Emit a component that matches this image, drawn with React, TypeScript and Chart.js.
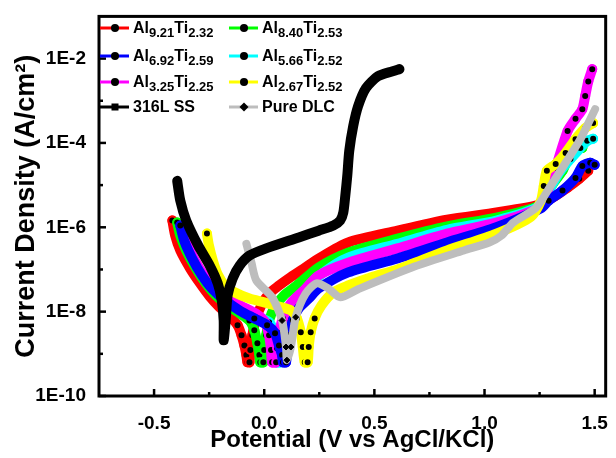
import React, { useEffect, useRef } from "react";
import { Chart, registerables } from "chart.js";

Chart.register(...registerables);

const FONT = '"Liberation Sans", Arial, Helvetica, sans-serif';

// ---------- series meta ----------
const seriesNames = [
  "Al9.21Ti2.32",
  "Al8.40Ti2.53",
  "Al6.92Ti2.59",
  "Al5.66Ti2.52",
  "Al3.25Ti2.25",
  "Al2.67Ti2.52",
  "316L SS",
  "Pure DLC",
];
const seriesColors = ["#ff0000", "#00ff00", "#0000ff", "#00ffff", "#ff00ff", "#ffff00", "#000000", "#bdbdbd"];
const seriesMarkers = ["circle", "circle", "circle", "circle", "circle", "circle", "rect", "rectRot"];
// drawing order (lower = on top)
const seriesOrder = [7, 6, 3, 5, 4, 2, 0, 1];

// ---------- data: potential (V) and current density (A/cm2) ----------
const potA = [-0.417, -0.404, -0.381, -0.336, -0.291, -0.247, -0.202, -0.157, -0.121, -0.103, -0.09, -0.081, -0.076, -0.067, -0.063, -0.054, -0.04, -0.013, 0.022, 0.067, 0.112, 0.179, 0.247, 0.381, 0.605, 0.83, 1.054, 1.247, 1.323, 1.377, 1.43, 1.471];
const curA = [1.45e-6, 6.31e-7, 2.82e-7, 1.05e-7, 4.68e-8, 2.29e-8, 1.26e-8, 7.76e-9, 4.79e-9, 2.75e-9, 1.58e-9, 9.33e-10, 6.31e-10, 6.31e-10, 1.23e-9, 2.75e-9, 6.17e-9, 1.41e-8, 2.69e-8, 4.17e-8, 6.17e-8, 1.05e-7, 1.82e-7, 4.37e-7, 8.32e-7, 1.51e-6, 2.24e-6, 3.39e-6, 5.62e-6, 8.71e-6, 1.41e-5, 2.19e-5];

const potB = [-0.395, -0.381, -0.354, -0.309, -0.265, -0.22, -0.166, -0.112, -0.067, -0.045, -0.031, -0.022, -0.018, -0.004, 0.0, 0.009, 0.022, 0.049, 0.09, 0.148, 0.247, 0.381, 0.605, 0.83, 1.054, 1.247, 1.278, 1.31, 1.354, 1.399, 1.444];
const curB = [1.29e-6, 6.31e-7, 2.82e-7, 1.05e-7, 4.68e-8, 2.45e-8, 1.41e-8, 9.12e-9, 6.17e-9, 3.63e-9, 1.78e-9, 9.33e-10, 6.31e-10, 6.31e-10, 1.23e-9, 2.75e-9, 6.17e-9, 1.32e-8, 2.45e-8, 4.17e-8, 1.12e-7, 2.51e-7, 5.37e-7, 1.05e-6, 1.7e-6, 3.24e-6, 6.31e-6, 1.07e-5, 2.19e-5, 6.46e-5, 7.59e-5];

const potC = [-0.381, -0.363, -0.327, -0.283, -0.238, -0.179, -0.112, -0.045, 0.013, 0.049, 0.067, 0.081, 0.085, 0.099, 0.103, 0.112, 0.13, 0.157, 0.202, 0.247, 0.381, 0.605, 0.83, 1.054, 1.256, 1.291, 1.354, 1.413, 1.444, 1.48, 1.5];
const curC = [1.1e-6, 4.79e-7, 1.82e-7, 7.24e-8, 3.55e-8, 1.86e-8, 1.07e-8, 6.92e-9, 4.79e-9, 3.09e-9, 1.58e-9, 9.33e-10, 6.31e-10, 6.31e-10, 1.23e-9, 2.75e-9, 6.17e-9, 1.2e-8, 2.04e-8, 3.55e-8, 8.51e-8, 1.82e-7, 4.37e-7, 1.0e-6, 2.82e-6, 4.27e-6, 7.41e-6, 1.48e-5, 2.82e-5, 3.39e-5, 3.02e-5];

const potD = [-0.377, -0.359, -0.323, -0.278, -0.233, -0.175, -0.108, -0.04, 0.022, 0.045, 0.054, 0.058, 0.072, 0.076, 0.085, 0.103, 0.139, 0.193, 0.269, 0.381, 0.605, 0.83, 1.054, 1.247, 1.291, 1.345, 1.39, 1.435, 1.466, 1.493];
const curD = [1.05e-6, 4.79e-7, 1.82e-7, 7.59e-8, 3.72e-8, 2.04e-8, 1.26e-8, 8.13e-9, 5.62e-9, 3.09e-9, 1.35e-9, 6.31e-10, 6.31e-10, 1.35e-9, 3.09e-9, 6.92e-9, 1.58e-8, 3.55e-8, 8.51e-8, 1.91e-7, 4.07e-7, 8.71e-7, 1.45e-6, 3.09e-6, 7.41e-6, 2.19e-5, 4.17e-5, 7.59e-5, 1.12e-4, 1.26e-4];

const potE = [-0.372, -0.35, -0.314, -0.269, -0.224, -0.166, -0.099, -0.031, 0.004, 0.022, 0.031, 0.036, 0.054, 0.058, 0.067, 0.085, 0.121, 0.179, 0.247, 0.381, 0.605, 0.83, 1.054, 1.247, 1.278, 1.323, 1.377, 1.413, 1.444, 1.457, 1.471, 1.489];
const curE = [9.77e-7, 4.37e-7, 1.62e-7, 6.76e-8, 3.55e-8, 2.04e-8, 1.32e-8, 8.51e-9, 5.62e-9, 2.75e-9, 1.23e-9, 6.31e-10, 6.31e-10, 1.35e-9, 3.09e-9, 6.92e-9, 1.58e-8, 3.16e-8, 7.24e-8, 1.45e-7, 3.16e-7, 7.08e-7, 1.29e-6, 2.88e-6, 5.62e-6, 2.57e-5, 1.91e-4, 3.72e-4, 6.31e-4, 1.29e-3, 2.88e-3, 5.62e-3];

const potF = [-0.26, -0.251, -0.233, -0.211, -0.179, -0.135, -0.067, 0.0, 0.067, 0.121, 0.148, 0.166, 0.175, 0.184, 0.197, 0.202, 0.211, 0.229, 0.26, 0.314, 0.381, 0.493, 0.605, 0.83, 1.054, 1.211, 1.256, 1.269, 1.283, 1.323, 1.368, 1.413, 1.457, 1.493];
const curF = [7.08e-7, 3.72e-7, 1.62e-7, 7.59e-8, 4.17e-8, 2.88e-8, 2.04e-8, 1.66e-8, 1.32e-8, 1.07e-8, 6.92e-9, 3.24e-9, 1.45e-9, 6.31e-10, 6.31e-10, 1.45e-9, 3.24e-9, 6.92e-9, 1.41e-8, 2.88e-8, 4.17e-8, 6.76e-8, 1.0e-7, 2.82e-7, 7.08e-7, 1.78e-6, 4.27e-6, 9.55e-6, 2.19e-5, 3.16e-5, 5.75e-5, 1.23e-4, 2.24e-4, 2.95e-4];

const potSS = [-0.395, -0.381, -0.354, -0.3, -0.247, -0.211, -0.193, -0.184, -0.184, -0.175, -0.166, -0.143, -0.112, -0.067, 0.009, 0.157, 0.247, 0.314, 0.345, 0.359, 0.368, 0.377, 0.386, 0.404, 0.426, 0.462, 0.516, 0.583, 0.614];
const curSS = [1.26e-5, 4.27e-6, 1.45e-6, 3.72e-7, 1.23e-7, 4.68e-8, 1.86e-8, 6.17e-9, 2.09e-9, 6.17e-9, 2.45e-8, 6.17e-8, 1.23e-7, 2.14e-7, 3.16e-7, 5.75e-7, 8.32e-7, 1.1e-6, 1.45e-6, 2.24e-6, 5.62e-6, 1.66e-5, 6.46e-5, 2.51e-4, 7.41e-4, 2.0e-3, 3.8e-3, 5.01e-3, 5.62e-3];

const potDLC = [-0.081, -0.058, -0.036, 0.036, 0.081, 0.099, 0.103, 0.121, 0.143, 0.188, 0.238, 0.291, 0.345, 0.426, 0.682, 0.906, 1.022, 1.076, 1.13, 1.233, 1.3, 1.368, 1.435, 1.502];
const curDLC = [4.07e-7, 1.45e-7, 5.5e-8, 2.19e-8, 6.17e-9, 1.45e-9, 7.08e-10, 1.45e-9, 7.41e-9, 2.69e-8, 4.68e-8, 3.55e-8, 2.19e-8, 3.39e-8, 1.17e-7, 2.82e-7, 4.37e-7, 6.31e-7, 1.29e-6, 2.88e-6, 9.55e-6, 3.39e-5, 1.23e-4, 6.31e-4];

const potentials = [potA, potB, potC, potD, potE, potF, potSS, potDLC];
const currents = [curA, curB, curC, curD, curE, curF, curSS, curDLC];

// ---------- axes ----------
const xMin = -0.75;
const xMax = 1.55;
const xTickValues = [-0.5, 0, 0.5, 1.0, 1.5];
const xTickLabels = ["-0.5", "0.0", "0.5", "1.0", "1.5"];
const xMinorTicks = [-0.25, 0.25, 0.75, 1.25];
const yMin = 1e-10;
const yMax = 1e-1;
const yTickValues = [1e-10, 1e-8, 1e-6, 1e-4, 1e-2];
const yTickLabels = ["1E-10", "1E-8", "1E-6", "1E-4", "1E-2"];
const yMinorTicks = [1e-9, 1e-7, 1e-5, 1e-3];
const xTitle = "Potential (V vs AgCl/KCl)";
const yTitle = "Current Density (A/cm\u00B2)";

const framePlugin = {
  id: "frameTicks",
  afterDatasetsDraw(chart: any) {
    const { ctx, chartArea: a, scales } = chart;
    ctx.save();
    ctx.strokeStyle = "#000";
    ctx.lineWidth = 3;
    ctx.strokeRect(a.left, a.top, a.right - a.left, a.bottom - a.top);
    ctx.lineWidth = 2.5;
    const seg = (x1: number, y1: number, x2: number, y2: number) => {
      ctx.beginPath();
      ctx.moveTo(x1, y1);
      ctx.lineTo(x2, y2);
      ctx.stroke();
    };
    xTickValues.forEach((v) => {
      const p = scales.x.getPixelForValue(v);
      seg(p, a.bottom, p, a.bottom - 7);
    });
    xMinorTicks.forEach((v) => {
      const p = scales.x.getPixelForValue(v);
      seg(p, a.bottom, p, a.bottom - 4);
    });
    yTickValues.forEach((v) => {
      const p = scales.y.getPixelForValue(v);
      seg(a.left, p, a.left + 7, p);
    });
    yMinorTicks.forEach((v) => {
      const p = scales.y.getPixelForValue(v);
      seg(a.left, p, a.left + 4, p);
    });
    ctx.restore();
  },
};

function renderLabel(name: string) {
  const parts = name.match(/([A-Z][a-z]?)(\d+\.\d+)/g);
  if (!parts) return <span>{name}</span>;
  return parts.map((p, i) => {
    const m = p.match(/([A-Z][a-z]?)(\d+\.\d+)/)!;
    return (
      <React.Fragment key={i}>
        <span>{m[1]}</span>
        <sub style={{ fontSize: 13, verticalAlign: "-4px", lineHeight: 0 }}>{m[2]}</sub>
      </React.Fragment>
    );
  });
}

function LegendMarker({ color, marker }: { color: string; marker: string }) {
  return (
    <svg width={30} height={12} style={{ marginRight: 3, display: "block" }}>
      <line x1={0} y1={6} x2={29} y2={6} stroke={color} strokeWidth={3} />
      {marker === "circle" && <circle cx={15} cy={6} r={4} fill="#000" />}
      {marker === "rect" && <rect x={11.5} y={2.5} width={7} height={7} fill="#000" />}
      {marker === "rectRot" && <polygon points="15,1.5 19.5,6 15,10.5 10.5,6" fill="#000" />}
    </svg>
  );
}

const legendCols = [100, 229];
const legendRows = [28, 56, 82, 107];

export default function App() {
  const ref = useRef<HTMLCanvasElement>(null);

  useEffect(() => {
    const datasets = seriesNames.map((name, i) => {
      const color = seriesColors[i];
      const coated = i < 6;
      return {
        label: name,
        data: potentials[i].map((e, k) => ({ x: e, y: currents[i][k] })),
        showLine: true,
        borderColor: color,
        backgroundColor: color,
        borderWidth: i === 7 ? 8 : 10,
        tension: 0.25,
        borderJoinStyle: "round" as const,
        borderCapStyle: "round" as const,
        order: seriesOrder[i],
        pointStyle: seriesMarkers[i] as any,
        pointBackgroundColor: "#000",
        pointBorderColor: coated ? color : "#000",
        pointBorderWidth: coated ? 2 : 1,
        pointRadius: (ctx: any) => {
          const r = ctx.raw;
          if (!r) return 0;
          if (coated) {
            return r.y < 7e-9 || r.x > 1.26 || ctx.dataIndex === 0 ? 4 : 0;
          }
          if (i === 6) return r.y < 3e-9 ? 4.5 : 0;
          return r.y < 1e-8 ? 3 : 0;
        },
        pointHoverRadius: 0,
      };
    });

    const chart = new Chart(ref.current!, {
      type: "scatter",
      data: { datasets },
      plugins: [framePlugin],
      options: {
        animation: false,
        responsive: false,
        devicePixelRatio: 1,
        layout: { padding: { top: 15, right: 5, left: 0, bottom: 0 } },
        plugins: { legend: { display: false }, tooltip: { enabled: false } },
        scales: {
          x: {
            type: "linear",
            min: xMin,
            max: xMax,
            afterFit: (s: any) => {
              s.height = 62;
            },
            afterBuildTicks: (s: any) => {
              s.ticks = xTickValues.map((v) => ({ value: v }));
            },
            grid: { display: false },
            border: { display: false },
            ticks: {
              padding: 8,
              color: "#000",
              maxRotation: 0,
              font: { family: FONT, size: 19, weight: "bold" },
              callback: (_v: any, idx: number) => xTickLabels[idx],
            },
            title: {
              display: true,
              text: xTitle,
              color: "#000",
              padding: { top: 0, bottom: 3 },
              font: { family: FONT, size: 24, weight: "bold" },
            },
          },
          y: {
            type: "logarithmic",
            min: yMin,
            max: yMax,
            afterFit: (s: any) => {
              s.width = 99;
            },
            afterBuildTicks: (s: any) => {
              s.ticks = yTickValues.map((v) => ({ value: v }));
            },
            grid: { display: false },
            border: { display: false },
            ticks: {
              padding: 5,
              color: "#000",
              font: { family: FONT, size: 19, weight: "bold" },
              callback: (_v: any, idx: number) => yTickLabels[idx],
            },
            title: {
              display: true,
              text: yTitle,
              color: "#000",
              padding: { top: 10, bottom: 0 },
              font: { family: FONT, size: 27, weight: "bold" },
            },
          },
        },
      } as any,
    });
    return () => chart.destroy();
  }, []);

  return (
    <div style={{ position: "absolute", left: 0, top: 0, width: 616, height: 458, background: "#fff" }}>
      <canvas ref={ref} width={616} height={458} style={{ position: "absolute", left: 0, top: 0, width: 616, height: 458 }} />
      {seriesNames.map((name, i) => {
        const x = legendCols[i % 2];
        const y = legendRows[Math.floor(i / 2)];
        return (
          <div
            key={name}
            style={{
              position: "absolute",
              left: x,
              top: y - 10,
              height: 20,
              display: "flex",
              alignItems: "center",
              whiteSpace: "nowrap",
              font: `bold 16px ${FONT}`,
              color: "#000",
            }}
          >
            <LegendMarker color={seriesColors[i]} marker={seriesMarkers[i]} />
            <span style={{ lineHeight: "20px" }}>{renderLabel(name)}</span>
          </div>
        );
      })}
    </div>
  );
}
